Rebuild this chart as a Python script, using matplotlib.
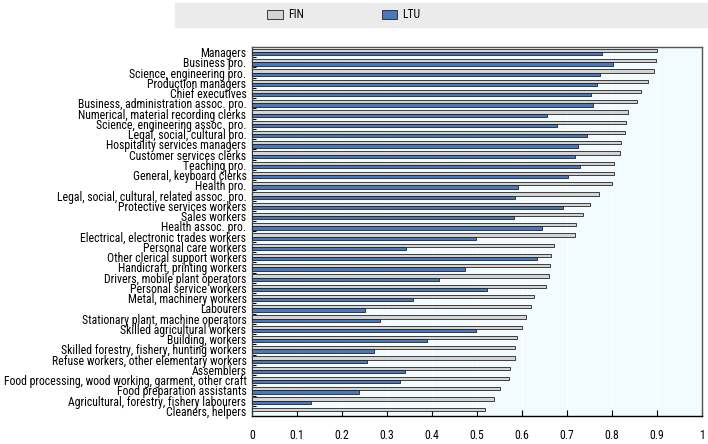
import numpy as np
import matplotlib.pyplot as plt
from matplotlib import font_manager
from matplotlib.patches import Rectangle

# Data
categories = [
    "Managers", "Business pro.", "Science, engineering pro.", "Production managers",
    "Chief executives", "Business, administration assoc. pro.",
    "Numerical, material recording clerks", "Science, engineering assoc. pro.",
    "Legal, social, cultural pro.", "Hospitality services managers",
    "Customer services clerks", "Teaching pro.", "General, keyboard clerks",
    "Health pro.", "Legal, social, cultural, related assoc. pro.",
    "Protective services workers", "Sales workers", "Health assoc. pro.",
    "Electrical, electronic trades workers", "Personal care workers",
    "Other clerical support workers", "Handicraft, printing workers",
    "Drivers, mobile plant operators", "Personal service workers",
    "Metal, machinery workers", "Labourers", "Stationary plant, machine operators",
    "Skilled agricultural workers", "Building, workers",
    "Skilled forestry, fishery, hunting workers",
    "Refuse workers, other elementary workers", "Assemblers",
    "Food processing, wood working, garment, other craft",
    "Food preparation assistants", "Agricultural, forestry, fishery labourers",
    "Cleaners, helpers",
]
fin = [0.900, 0.897, 0.893, 0.880, 0.865, 0.856, 0.836, 0.832, 0.829, 0.819,
       0.818, 0.805, 0.805, 0.799, 0.770, 0.750, 0.736, 0.721, 0.718, 0.671,
       0.665, 0.662, 0.660, 0.653, 0.627, 0.620, 0.609, 0.599, 0.589, 0.585,
       0.584, 0.574, 0.571, 0.551, 0.537, 0.518]
ltu = [0.778, 0.802, 0.774, 0.767, 0.753, 0.758, 0.656, 0.677, 0.745, 0.725,
       0.718, 0.729, 0.702, 0.590, 0.584, 0.692, 0.582, 0.645, 0.498, 0.343,
       0.634, 0.473, 0.416, 0.522, 0.357, 0.250, 0.285, 0.498, 0.389, 0.271,
       0.256, 0.339, 0.329, 0.238, 0.130, 0.0]
xticks = [0, 0.1, 0.2, 0.3, 0.4, 0.5, 0.6, 0.7, 0.8, 0.9, 1]
xticklabels = ["0", "0.1", "0.2", "0.3", "0.4", "0.5", "0.6", "0.7", "0.8", "0.9", "1"]

# pick an Arial Narrow look-alike if one is around
names = {f.name for f in font_manager.fontManager.ttflist}
wanted = ['Liberation Sans Narrow', 'Arial Narrow', 'Nimbus Sans Narrow',
          'Roboto Condensed', 'Open Sans Condensed', 'Noto Sans Condensed']
narrow = [n for n in wanted if n in names]
if narrow:
    label_font, label_size = narrow[0], 8.5
else:
    label_font, label_size = 'Liberation Sans', 7.6
plt.rcParams['font.family'] = [label_font, 'Liberation Sans', 'DejaVu Sans']

fig = plt.figure(figsize=(7.08, 4.44), dpi=100)
ax = fig.add_axes([252/708, 1 - 416/444, 450/708, 369/444])

y = np.arange(len(categories))
h = 0.3
ax.barh(y - 0.16, fin, height=h, color='#d4d4d4', edgecolor='#222222', linewidth=0.6,
        label='FIN', zorder=3)
ax.barh(y + 0.16, ltu, height=h, color='#4a78bc', edgecolor='#222222', linewidth=0.6,
        label='LTU', zorder=3)

ax.set_facecolor('#f2fbff')
ax.set_xlim(0, 1)
ax.set_ylim(len(categories) - 0.5, -0.5)
ax.set_yticks(y)
ax.set_yticklabels(categories, fontsize=label_size)
ax.set_yticks(y[:-1] + 0.5, minor=True)
ax.tick_params(axis='y', which='major', length=0, pad=4)
ax.tick_params(axis='y', which='minor', direction='in', length=3, width=0.8)
ax.set_xticks(xticks)
ax.set_xticklabels(xticklabels, fontsize=label_size)
ax.tick_params(axis='x', direction='in', length=4, width=0.8, pad=9)
ax.grid(axis='x', color='white', linewidth=1.0, zorder=0)
for s in ax.spines.values():
    s.set_color('#555555')
    s.set_linewidth(1.0)
ax.spines['bottom'].set_color('#000000')

# legend band on top
fig.patches.append(Rectangle((175/708, 1 - 27/444), 533/708, 24/444,
                             transform=fig.transFigure, color='#ebebeb', zorder=0))
handles, labels = ax.get_legend_handles_labels()
fig.legend(handles, labels, loc='center', bbox_to_anchor=(344/708, 1 - 15/444),
           ncol=2, frameon=False, fontsize=label_size, handlelength=1.3, handleheight=0.8,
           columnspacing=6.6, handletextpad=0.45)

fig.savefig('out.png', dpi=100)
